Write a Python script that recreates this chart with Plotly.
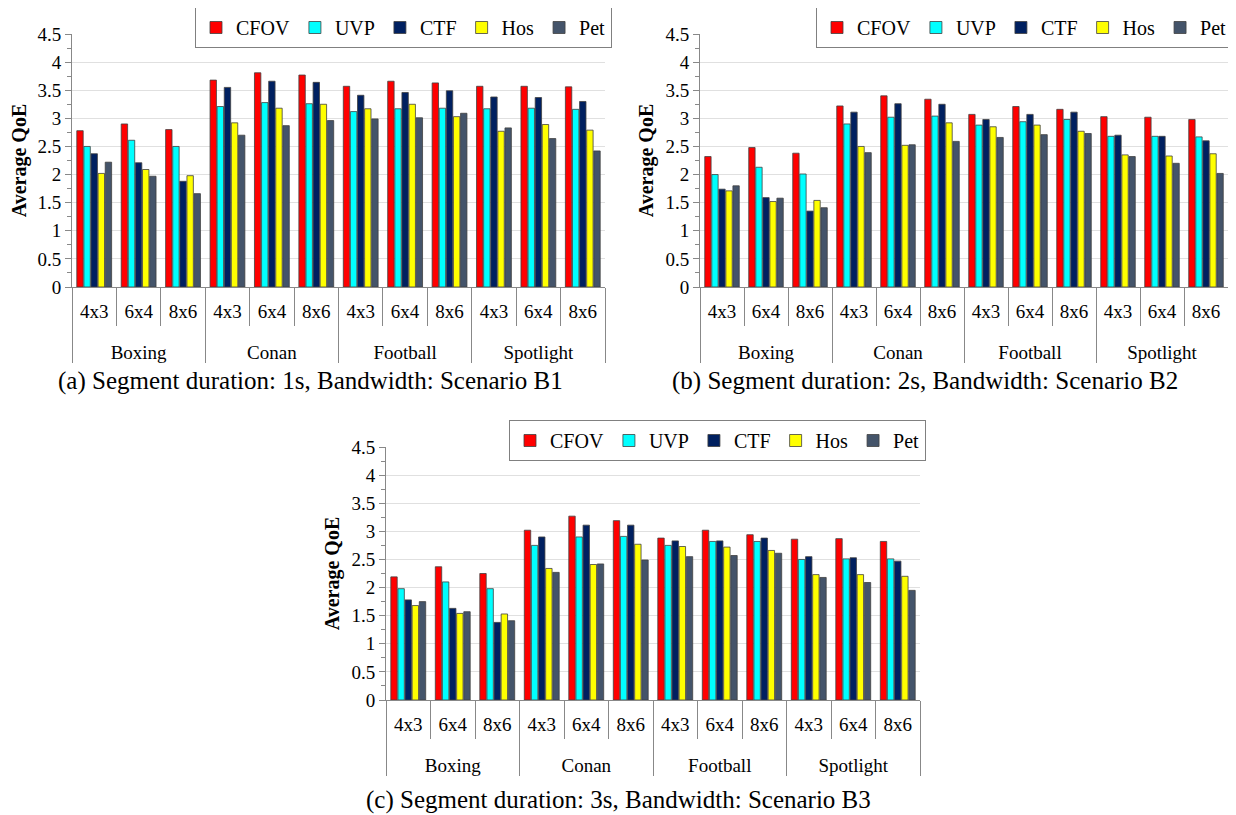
import plotly.graph_objects as go

videos = ["Boxing", "Conan", "Football", "Spotlight"]
tilings = ["4x3", "6x4", "8x6"]
methods = ["CFOV", "UVP", "CTF", "Hos", "Pet"]
colors = ["#FF0000", "#00FFFF", "#002060", "#FFFF00", "#44546A"]

# Panel (a): 1s, B1  (order: Boxing 4x3,6x4,8x6, Conan..., Football..., Spotlight...)
a_CFOV = [2.78, 2.90, 2.80, 3.68, 3.81, 3.77, 3.57, 3.66, 3.63, 3.57, 3.57, 3.56]
a_UVP  = [2.50, 2.61, 2.50, 3.21, 3.28, 3.26, 3.12, 3.17, 3.18, 3.17, 3.18, 3.16]
a_CTF  = [2.37, 2.21, 1.88, 3.55, 3.66, 3.64, 3.41, 3.46, 3.49, 3.38, 3.37, 3.30]
a_Hos  = [2.02, 2.09, 1.98, 2.92, 3.18, 3.25, 3.17, 3.25, 3.03, 2.77, 2.89, 2.79]
a_Pet  = [2.22, 1.97, 1.66, 2.70, 2.87, 2.96, 2.99, 3.01, 3.09, 2.83, 2.64, 2.42]

# Panel (b): 2s, B2
b_CFOV = [2.32, 2.48, 2.38, 3.22, 3.40, 3.34, 3.07, 3.21, 3.16, 3.03, 3.02, 2.98]
b_UVP  = [2.00, 2.13, 2.01, 2.90, 3.02, 3.04, 2.88, 2.94, 2.98, 2.68, 2.68, 2.67]
b_CTF  = [1.74, 1.59, 1.35, 3.11, 3.26, 3.25, 2.98, 3.07, 3.11, 2.70, 2.68, 2.60]
b_Hos  = [1.71, 1.52, 1.54, 2.50, 2.52, 2.92, 2.85, 2.88, 2.77, 2.35, 2.33, 2.37]
b_Pet  = [1.80, 1.58, 1.41, 2.39, 2.53, 2.59, 2.66, 2.71, 2.73, 2.32, 2.20, 2.02]

# Panel (c): 3s, B3
c_CFOV = [2.19, 2.37, 2.25, 3.02, 3.27, 3.19, 2.88, 3.02, 2.94, 2.86, 2.87, 2.82]
c_UVP  = [1.98, 2.10, 1.98, 2.75, 2.90, 2.91, 2.75, 2.82, 2.82, 2.50, 2.51, 2.51]
c_CTF  = [1.78, 1.63, 1.38, 2.90, 3.11, 3.11, 2.83, 2.83, 2.88, 2.55, 2.53, 2.47]
c_Hos  = [1.68, 1.54, 1.53, 2.34, 2.41, 2.77, 2.73, 2.72, 2.66, 2.23, 2.23, 2.20]
c_Pet  = [1.75, 1.57, 1.41, 2.27, 2.42, 2.49, 2.55, 2.57, 2.61, 2.18, 2.09, 1.95]

panels = [
    ("x", "y", "legend", [a_CFOV, a_UVP, a_CTF, a_Hos, a_Pet]),
    ("x2", "y2", "legend2", [b_CFOV, b_UVP, b_CTF, b_Hos, b_Pet]),
    ("x3", "y3", "legend3", [c_CFOV, c_UVP, c_CTF, c_Hos, c_Pet]),
]
captions = [
    "(a) Segment duration: 1s, Bandwidth: Scenario B1",
    "(b) Segment duration: 2s, Bandwidth: Scenario B2",
    "(c) Segment duration: 3s, Bandwidth: Scenario B3",
]

# group labels carry a leading line break so they sit lower, as in the reference
xcat = [["<br>" + v for v in videos for _ in tilings], [t for _ in videos for t in tilings]]

FONT = "Liberation Serif, Times New Roman, serif"
# page body has an 8px margin; figure is sized so it ends at the window edge
OFF = 8
W, H = 1236 - OFF, 815 - OFF

fig = go.Figure()
for xa, ya, lg, series in panels:
    for name, col, vals in zip(methods, colors, series):
        fig.add_trace(go.Bar(
            x=xcat, y=vals, name=name, xaxis=xa, yaxis=ya, legend=lg,
            marker=dict(color=col, line=dict(color="#404040", width=0.8)),
        ))

# geometry in screen pixels (reference coordinates)
boxes = {
    "a": dict(x0=72, x1=605, top=34, bot=287),
    "b": dict(x0=700, x1=1228, top=34, bot=287),
    "c": dict(x0=386, x1=920, top=447, bot=700),
}

def px(x):
    return (x - OFF) / W

def py(y):
    return 1 - (y - OFF) / H

def xdom(b):
    return [px(b["x0"]), px(b["x1"])]

def ydom(b):
    return [py(b["bot"]), py(b["top"])]

axis_font = dict(family=FONT, size=19, color="#000000")

def yaxis_cfg(anchor, b):
    return dict(
        domain=ydom(b), anchor=anchor, range=[0, 4.5], dtick=0.5, tick0=0,
        tickfont=axis_font, showgrid=True, gridcolor="#E0E0E0", gridwidth=1,
        showline=True, linecolor="#888888", linewidth=1,
        ticks="outside", ticklen=6, tickcolor="#888888",
        minor=dict(dtick=0.25, ticks="outside", ticklen=4, tickcolor="#888888", showgrid=False),
        zeroline=False, automargin=False,
        title=dict(text="<b>Average QoE</b>", font=dict(family=FONT, size=20, color="#000"), standoff=6),
    )

def xaxis_cfg(anchor, b):
    return dict(
        domain=xdom(b), anchor=anchor, type="multicategory",
        tickfont=axis_font, showline=True, linecolor="#888888", linewidth=1,
        showdividers=True, dividercolor="#888888", dividerwidth=1,
        ticks="outside", ticklen=38, tickcolor="#888888",
        ticklabelstandoff=7,
        showgrid=False, automargin=False,
    )

fig.update_layout(
    width=W, height=H,
    margin=dict(l=0, r=0, t=0, b=0, autoexpand=False),
    paper_bgcolor="white", plot_bgcolor="white",
    barmode="group", bargap=0.2, bargroupgap=0.1,
    font=dict(family=FONT, color="#000"),
    xaxis=xaxis_cfg("y", boxes["a"]),
    yaxis=yaxis_cfg("x", boxes["a"]),
    xaxis2=xaxis_cfg("y2", boxes["b"]),
    yaxis2=yaxis_cfg("x2", boxes["b"]),
    xaxis3=xaxis_cfg("y3", boxes["c"]),
    yaxis3=yaxis_cfg("x3", boxes["c"]),
)

leg_common = dict(
    orientation="h", xanchor="right", yanchor="top",
    bordercolor="#808080", borderwidth=1, bgcolor="white",
    font=dict(family=FONT, size=20, color="#000"),
    itemwidth=30, tracegroupgap=0, itemclick=False,
)
fig.update_layout(
    legend=dict(x=px(612), y=py(7), **leg_common),
    legend2=dict(x=px(1233), y=py(7), **leg_common),
    legend3=dict(x=px(926), y=py(420), **leg_common),
)

cap_pos = [(310, 381), (925, 381), (618, 800)]
for txt, (cx, cy) in zip(captions, cap_pos):
    fig.add_annotation(
        text=txt, x=px(cx), y=py(cy), xref="paper", yref="paper",
        showarrow=False, xanchor="center", yanchor="middle",
        font=dict(family=FONT, size=25, color="#000"),
    )

fig.write_html("out.html")
